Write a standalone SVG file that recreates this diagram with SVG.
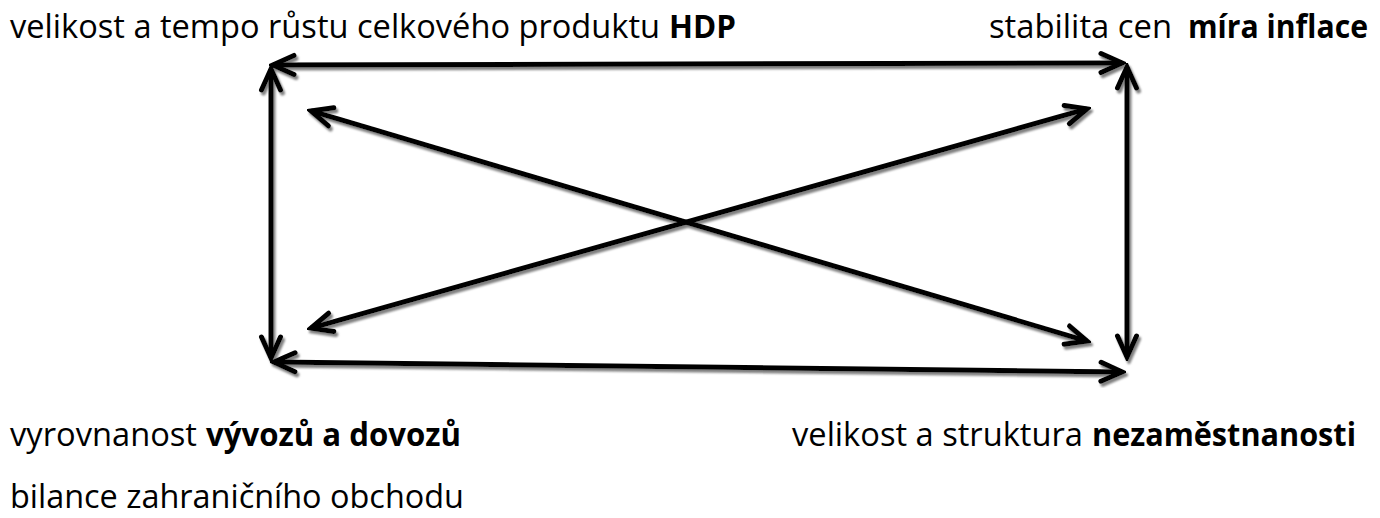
<svg xmlns="http://www.w3.org/2000/svg" width="1380" height="518" viewBox="0 0 1380 518">
<style>
.t{font-family:"Open Sans","Liberation Sans",sans-serif;font-size:33px;fill:#000}
.b{font-weight:bold}
.c{stroke:#000;stroke-width:5;fill:none}
</style>
<defs>
<marker id="ah" markerUnits="userSpaceOnUse" viewBox="-28 -16 32 32" markerWidth="32" markerHeight="32" refX="0" refY="0" orient="auto-start-reverse">
<path d="M -21 -9.5 L 0 0 L -21 9.5" fill="none" stroke="#000" stroke-width="5" stroke-linecap="round" stroke-linejoin="miter"/>
</marker>
<filter id="sh" x="-5%" y="-5%" width="110%" height="110%">
<feDropShadow dx="2" dy="3" stdDeviation="0.8" flood-color="#808080" flood-opacity="1"/>
</filter>
</defs>
<rect width="1380" height="518" fill="#fff"/>
<g id="connectors" filter="url(#sh)">
<line class="c" x1="273" y1="65" x2="1122" y2="63" marker-start="url(#ah)" marker-end="url(#ah)"/>
<line class="c" x1="271" y1="69" x2="271" y2="358" marker-start="url(#ah)" marker-end="url(#ah)"/>
<line class="c" x1="274" y1="362" x2="1122" y2="372" marker-start="url(#ah)" marker-end="url(#ah)"/>
<line class="c" x1="1127" y1="67" x2="1127" y2="357" marker-start="url(#ah)" marker-end="url(#ah)"/>
<line class="c" x1="311" y1="110.9" x2="1087" y2="341.1" marker-start="url(#ah)" marker-end="url(#ah)"/>
<line class="c" x1="311" y1="328.1" x2="1087" y2="108.9" marker-start="url(#ah)" marker-end="url(#ah)"/>
</g>
<g id="node-hdp">
<text class="t" x="10" y="38" textLength="650" lengthAdjust="spacingAndGlyphs">velikost a tempo růstu celkového produktu</text>
<text class="t b" x="669" y="38" textLength="67" lengthAdjust="spacingAndGlyphs">HDP</text>
</g>
<g id="node-inflace">
<text class="t" x="989" y="38" textLength="183" lengthAdjust="spacingAndGlyphs">stabilita cen</text>
<text class="t b" x="1188" y="38" textLength="180" lengthAdjust="spacingAndGlyphs">míra inflace</text>
</g>
<g id="node-vyvoz">
<text class="t" x="10" y="446" textLength="187" lengthAdjust="spacingAndGlyphs">vyrovnanost</text>
<text class="t b" x="206" y="446" textLength="255" lengthAdjust="spacingAndGlyphs">vývozů a dovozů</text>
<text class="t" x="10" y="508" textLength="454" lengthAdjust="spacingAndGlyphs">bilance zahraničního obchodu</text>
</g>
<g id="node-nezamestnanost">
<text class="t" x="792" y="446" textLength="291" lengthAdjust="spacingAndGlyphs">velikost a struktura</text>
<text class="t b" x="1092" y="446" textLength="264" lengthAdjust="spacingAndGlyphs">nezaměstnanosti</text>
</g>
</svg>
